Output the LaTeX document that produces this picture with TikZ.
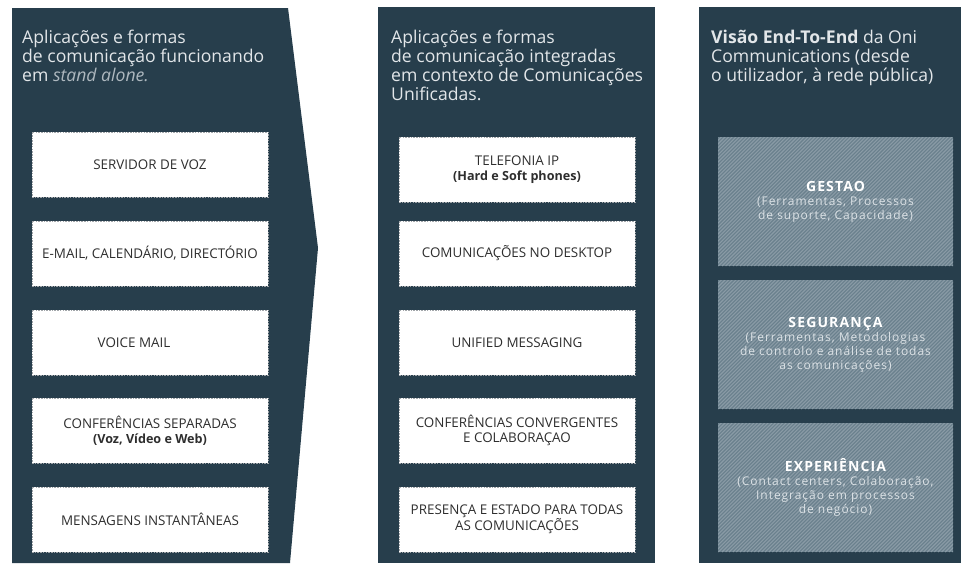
\documentclass[tikz,border=0pt]{standalone}
\usepackage{fontspec}
\setmainfont{Open Sans}
\newfontfamily\spacedfont[LetterSpace=8]{Open Sans}
\definecolor{panel}{HTML}{273E4C}
\definecolor{hdrtext}{HTML}{E2E6E9}
\definecolor{hdrlight}{HTML}{AEB8BF}
\definecolor{boxtext}{HTML}{2E2E2E}
\definecolor{dashgray}{HTML}{A2A6AA}
\definecolor{hatchbase}{HTML}{6A808D}
\definecolor{hatchline}{HTML}{8A9BA6}
\definecolor{htxt}{HTML}{DCE2E6}
\newcommand\htitlefont{\fontsize{14}{15}\selectfont\bfseries\color{white}}
\newcommand\subfont{\fontsize{12.6}{14}\selectfont\bfseries}
\newcommand\hdrlines[1]{\begin{tabular}[t]{@{}l@{}}#1\end{tabular}}
\begin{document}
\begin{tikzpicture}[x=1pt,y=-1pt,
  wbox/.style={fill=white, draw=dashgray, line width=0.9pt, dash pattern=on 1.6pt off 1.1pt,
    minimum width=236pt, minimum height=65pt, inner sep=0pt},
  wtext/.style={font=\fontsize{13.4}{15}\selectfont, text=boxtext, align=center, inner sep=0pt},
  hdr/.style={font=\fontsize{17.6}{18.5}\selectfont, text=hdrtext, anchor=base west, inner sep=0pt},
  hbox/.style={fill=hatchbase, minimum width=235pt, minimum height=129pt, inner sep=0pt,
    path picture={
      \foreach \k in {-140,-136.4,...,245}
        \draw[hatchline, line width=1.1pt] ([xshift=\k pt]path picture bounding box.south west) -- ++(150,-150);
    }},
  htext/.style={font=\spacedfont\fontsize{12}{14}\selectfont, text=htxt, align=center, inner sep=0pt}
]
\useasboundingbox (0,0) rectangle (963,565);

% panels
\fill[panel] (12,8) -- (288,8) -- (318,248) -- (290,563) -- (12,563) -- cycle;
\fill[panel] (378,7) rectangle (655,563);
\fill[panel] (699,7) rectangle (961,563);

% headers
\node[hdr] (h1) at (22,43.5) {\hdrlines{Aplicações e formas\\de comunicação funcionando\\em {\itshape\color{hdrlight}stand alone.}}};
\node[hdr] (h2) at (391,43.5) {\hdrlines{Aplicações e formas\\de comunicação integradas\\em contexto de Comunicações\\Unificadas.}};
\node[hdr] (h3) at (711,43.5) {\hdrlines{\textbf{Visão End-To-End} da Oni\\Communications (desde\\o utilizador, à rede pública)}};

% column 1
\node[wbox] (a1) at (150,164.5) {};
\node[wtext] (t1) at (a1) {SERVIDOR DE VOZ};
\node[wbox] (a2) at (150,253.5) {};
\node[wtext] (t2) at (a2) {E-MAIL, CALENDÁRIO, DIRECTÓRIO};
\node[wbox] (a3) at (150,342.5) {};
\node[wtext] (t3) at ([xshift=-16pt]a3.center) {VOICE MAIL};
\node[wbox] (a4) at (150,430.5) {};
\node[wtext] (t4) at (a4) {CONFERÊNCIAS SEPARADAS\\{\subfont (Voz, Vídeo e Web)}};
\node[wbox] (a5) at (150,519.5) {};
\node[wtext] (t5) at (a5) {MENSAGENS INSTANTÂNEAS};

% column 2
\node[wbox] (b1) at (517,169.5) {};
\node[wtext] (u1) at (b1) {TELEFONIA IP\\{\subfont (Hard e Soft phones)}};
\node[wbox] (b2) at (517,253.5) {};
\node[wtext] (u2) at (b2) {COMUNICAÇÕES NO DESKTOP};
\node[wbox] (b3) at (517,342.5) {};
\node[wtext] (u3) at (b3) {UNIFIED MESSAGING};
\node[wbox] (b4) at (517,430.5) {};
\node[wtext] (u4) at (b4) {CONFERÊNCIAS CONVERGENTES\\E COLABORAÇAO};
\node[wbox] (b5) at (517,519.5) {};
\node[wtext] (u5) at (b5) {PRESENÇA E ESTADO PARA TODAS\\AS COMUNICAÇÕES};

% column 3
\node[hbox] (c1) at (835.5,201.5) {};
\node[htext] (v1) at (c1) {{\htitlefont GESTAO}\\(Ferramentas, Processos\\de suporte, Capacidade)};
\node[hbox] (c2) at (835.5,344.5) {};
\node[htext] (v2) at (c2) {{\htitlefont SEGURANÇA}\\(Ferramentas, Metodologias\\de controlo e análise de todas\\as comunicações)};
\node[hbox] (c3) at (835.5,487.5) {};
\node[htext] (v3) at (c3) {{\htitlefont EXPERIÊNCIA}\\(Contact centers, Colaboração,\\Integração em processos\\de negócio)};
\end{tikzpicture}
\end{document}
